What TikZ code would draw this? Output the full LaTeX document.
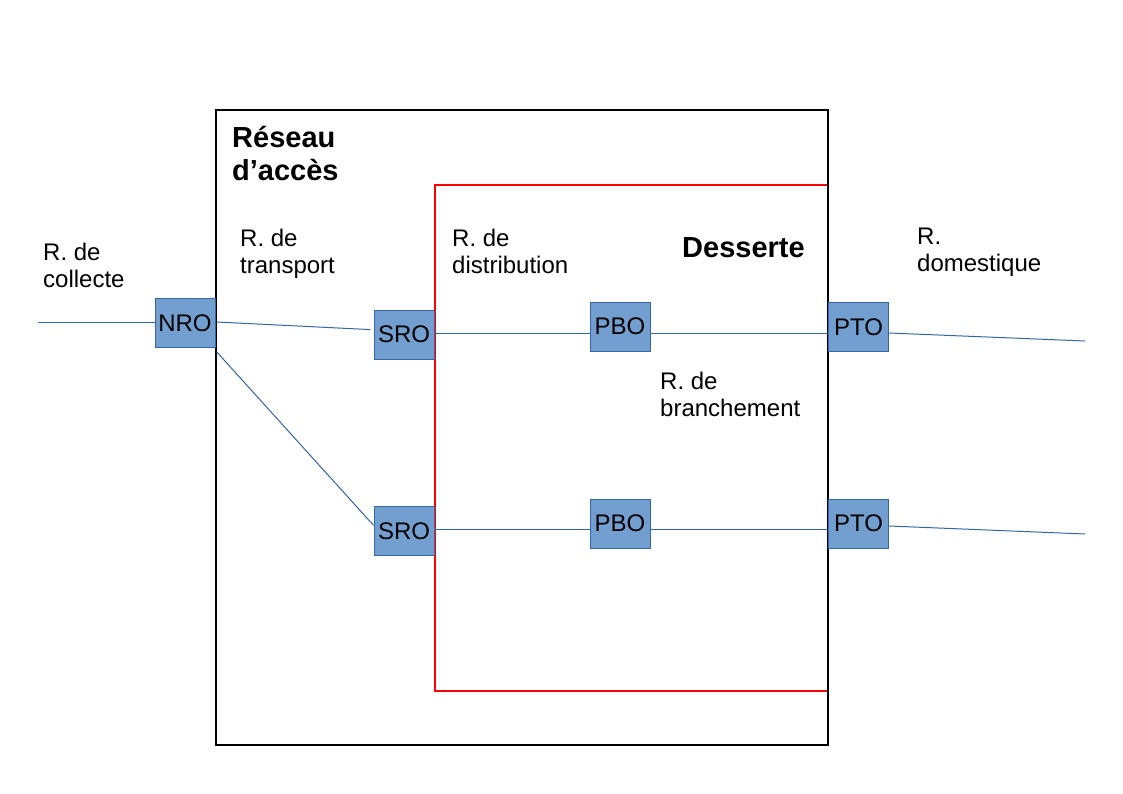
\documentclass[tikz,border=0pt]{standalone}
\usepackage{fontspec}
\setmainfont{Liberation Sans}
\definecolor{boxfill}{HTML}{729FCF}
\definecolor{boxline}{HTML}{3465A4}
\newcommand\regfont{\fontsize{24}{27}\selectfont}
\newcommand\bldfont{\fontsize{29}{32.5}\selectfont\bfseries}
\newcommand\twoline[2]{\begin{tabular}[t]{@{}l@{}}#1\\#2\end{tabular}}
\begin{document}
\begin{tikzpicture}[x=1pt,y=-1pt,
  eqp/.style={draw=boxline, fill=boxfill, line width=1pt, minimum width=60pt, minimum height=49pt, inner sep=0pt, font=\regfont},
  lbl/.style={anchor=base west, inner sep=0pt, font=\regfont},
  ttl/.style={anchor=base west, inner sep=0pt, font=\bldfont},
  link/.style={draw=boxline, line width=1pt}
]
\useasboundingbox (0,0) rectangle (1123,794);
% frames
\draw[red, line width=2pt] (435,185) rectangle (828,691);
\draw[black, line width=2.2pt] (216,110) rectangle (828,745);
% equipment nodes
\node[eqp] (nro) at (185,323) {NRO};
\node[eqp] (sro1) at (404,334.6) {SRO};
\node[eqp] (sro2) at (404,531.3) {SRO};
\node[eqp] (pbo1) at (620,326.5) {PBO};
\node[eqp] (pbo2) at (620,523.7) {PBO};
\node[eqp] (pto1) at (858.5,327) {PTO};
\node[eqp] (pto2) at (858.5,523.7) {PTO};
\coordinate (cin) at (38,322);
\coordinate (cout1) at (1085,341);
\coordinate (cout2) at (1085,534);
% connectors
\draw[link] (cin) -- ([yshift=1pt]nro.west);
\draw[link] ([xshift=1pt,yshift=1pt]nro.east) -- ([xshift=-3pt,yshift=5pt]sro1.west);
\draw[link] ([xshift=1pt,yshift=-28.7pt]nro.east) -- ([yshift=6pt]sro2.west);
\draw[link] ([yshift=1.6pt]sro1.east) -- ([yshift=-6.5pt]pbo1.west);
\draw[link] ([yshift=-6.5pt]pbo1.east) -- ([yshift=-6pt]pto1.west);
\draw[link] ([yshift=-6pt]pto1.east) -- (cout1);
\draw[link] ([yshift=2pt]sro2.east) -- ([yshift=-5.6pt]pbo2.west);
\draw[link] ([yshift=-5.6pt]pbo2.east) -- ([yshift=-5.6pt]pto2.west);
\draw[link] ([yshift=-2.3pt]pto2.east) -- (cout2);
% labels
\node[ttl] (tacc) at (232,148) {\twoline{Réseau}{d’accès}};
\node[ttl] (tdes) at (682,258) {Desserte};
\node[lbl] (lcol) at (43,260) {\twoline{R. de}{collecte}};
\node[lbl] (ltra) at (240,246) {\twoline{R. de}{transport}};
\node[lbl] (ldis) at (452,246) {\twoline{R. de}{distribution}};
\node[lbl] (ldom) at (917,244) {\twoline{R.}{domestique}};
\node[lbl] (lbra) at (660,389) {\twoline{R. de}{branchement}};
\end{tikzpicture}
\end{document}
